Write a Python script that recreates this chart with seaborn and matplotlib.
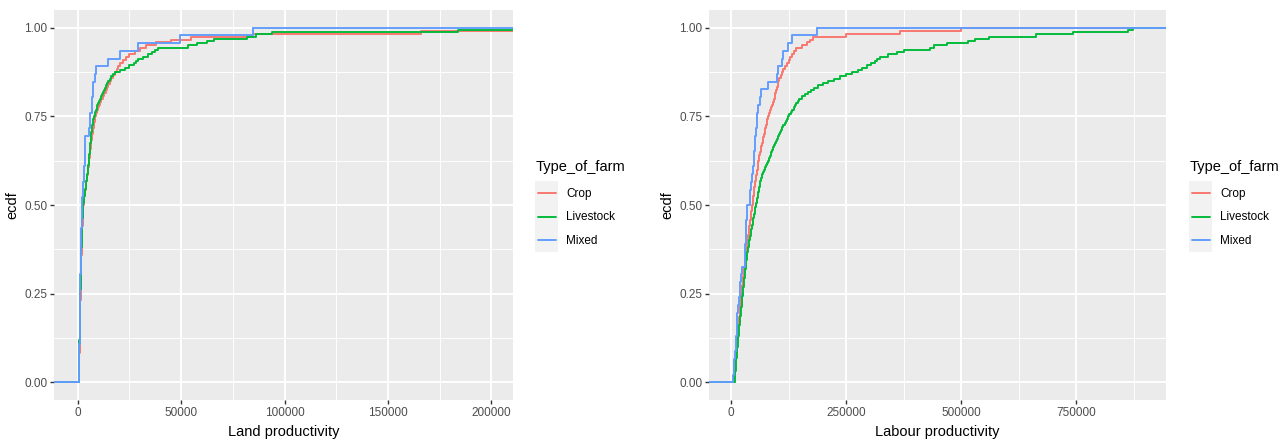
import numpy as np
import pandas as pd
import matplotlib
matplotlib.use("Agg")
import matplotlib.pyplot as plt
import seaborn as sns
from matplotlib.lines import Line2D
from matplotlib.patches import Rectangle

# ---------------- data ----------------
farm_types = ["Crop", "Livestock", "Mixed"]
farm_colors = ["#F8766D", "#00BA38", "#619CFF"]

crop_land = [
    600, 630, 660, 690, 720, 750, 780, 800, 830, 850, 880, 900,
    930, 960, 990, 1020, 1050, 1080, 1110, 1140, 1170, 1200, 1230, 1260, 1290, 1310, 1330, 1350, 1380, 1400,
    1430, 1470, 1500, 1530, 1570, 1600, 1630, 1670, 1700, 1730, 1770, 1800, 1830, 1870, 1900, 1930, 1970, 2000,
    2050, 2100, 2160, 2220, 2280, 2340, 2400, 2460, 2520, 2580, 2640, 2700,
    2880, 3070, 3260, 3450, 3640, 3830, 4020, 4220, 4420, 4620, 4810, 5000,
    5170, 5330, 5500, 5670, 5830, 6000, 6170, 6330, 6500, 6670, 6830, 7000,
    7250, 7500, 7750, 8000, 8250, 8500,
    9000, 9500, 10000, 10500, 11000, 11500,
    12200, 12800, 13500, 14200, 14800, 15500,
    16300, 17200, 18000, 18800, 19700, 20500,
    22000, 23500, 25000, 27500, 30000, 33000,
    38000, 45000, 55000, 85000, 166000, 230000,
]

livestock_land = [
    500, 520, 540, 560, 580, 600, 620, 640, 660, 680, 700, 720, 740, 760, 780, 800,
    820, 840, 860, 880, 900, 920, 940, 960, 980, 1000, 1020, 1040, 1060, 1080, 1100, 1120,
    1140, 1160, 1180, 1200, 1220, 1240, 1270, 1300,
    1325, 1350, 1375, 1400, 1425, 1450, 1475, 1500, 1525, 1550, 1575, 1600, 1625, 1650, 1675, 1700,
    1725, 1750, 1775, 1800, 1825, 1850, 1875, 1900,
    1940, 1980, 2020, 2060, 2110, 2150, 2200, 2240, 2280, 2320, 2370, 2420, 2460, 2510, 2560, 2600,
    2750, 2900, 3050, 3200, 3350, 3500, 3650, 3800, 3950, 4100, 4250, 4400, 4550, 4700, 4850, 5000,
    5090, 5190, 5280, 5380, 5470, 5560, 5660, 5750, 5840, 5940, 6030, 6130, 6220, 6310, 6410, 6500,
    6660, 6830, 6990, 7150, 7310, 7480, 7640, 7800,
    8150, 8500, 8850, 9200, 9550, 9900, 10250, 10600,
    11100, 11600, 12050, 12550, 13050, 13550, 14000, 14500,
    15400, 16300, 17100, 18000, 20500, 23000, 25000, 27000,
    28000, 29000, 31500, 34000, 35800, 37500, 39000, 53500,
    57600, 62500, 65700, 82000, 86000, 94000, 184000, 240000,
]

mixed_land = [
    450, 600, 700, 800, 850, 900, 950, 1000, 1050, 1100, 1150, 1200,
    1300, 1350, 1400, 1500, 1550, 1600, 1700, 1800, 1900, 2000, 2100, 2150,
    2600, 2700, 2900, 3070, 3300, 3400, 3600, 3720, 5500, 6100, 6150, 6750,
    6800, 7400, 7440, 8600, 8740, 14700, 20400, 29300, 49500, 84600,
]

crop_labour = [
    6800, 7300, 7800, 8300, 8800, 9300, 9800, 10300, 10800, 11300, 11800, 12300, 12800, 13300, 13800,
    14400, 15000, 15700, 16300, 16900, 17500, 18100, 18800, 19400, 20000, 20600, 21200, 21900, 22500, 23000,
    23700, 24300, 25000, 25700, 26300, 27000, 27700, 28300, 29000, 29700, 30300, 31000, 31700, 32300, 33000,
    33900, 34700, 35600, 36500, 37300, 38200, 39100, 39900, 40800, 41700, 42500, 43400, 44300, 45100, 46000,
    46800, 47700, 48500, 49300, 50200, 51000, 51800, 52700, 53500,
    54600, 55600, 56700, 57700, 58800, 59800, 60900, 61900, 63000,
    64500, 66000, 67500, 69000, 70500, 72000,
    73300, 74700, 76000, 77300, 78700, 80000,
    82200, 84400, 86500, 88700, 90800, 93000,
    94700, 96300, 98000, 99700, 101300, 103000,
    105300, 107700, 110000, 114000, 118000, 122000,
    125700, 129300, 133000, 137500, 142000, 155000,
    165000, 172000, 179000, 250000, 367000, 500000,
]

livestock_labour = [
    8000, 8400, 8800, 9200, 9600, 10000, 10400, 10800, 11200, 11600, 12000, 12400, 12800, 13200, 13600,
    14000, 14400, 14800, 15200, 15500,
    16000, 16500, 17000, 17500, 18000, 18500, 19000, 19500, 20000, 20500, 21000, 21500, 22000, 22500,
    23000, 23500, 24000, 24500, 25000, 25500,
    26000, 26600, 27100, 27700, 28200, 28800, 29300, 29900, 30400, 31000, 31500, 32100, 32600, 33200,
    33700, 34300, 34800, 35400, 35900, 36500,
    37400, 38200, 39100, 40000, 40800, 41700, 42600, 43500, 44300, 45200, 46100, 47000, 47800, 48700,
    49600, 50500, 51300, 52200, 53100, 54000,
    54900, 55800, 56800, 57700, 58600, 59500, 60400, 61300, 62300, 63200, 64100, 65000,
    66800, 68500, 70300, 72000,
    74000, 76000, 78000, 80000, 82000, 84000, 86000, 88000,
    90000, 92000, 94000, 96000, 98000, 100000, 102000, 104000,
    106500, 109000, 111500, 114000, 116500, 119000, 121500, 124000,
    127000, 130000, 133000, 136000, 139000, 142000, 145000, 148000,
    154000, 161000, 167000, 174000, 180000, 190000, 200000, 210000,
    223000, 237000, 250000, 262000, 275000, 285000, 295000, 305000,
    312000, 318000, 324000, 342000, 360000, 375000, 432000, 440000,
    470000, 515000, 530000, 560000, 663000, 743000, 862000, 873000,
]

mixed_labour = [
    5070, 6000, 7000, 8500, 10300, 11000, 12300, 12800, 13800, 15000, 16700, 19000,
    20500, 21700, 23200, 30400, 30500, 30600, 32000, 33300, 33600, 33800, 34000, 41300,
    42000, 42800, 45500, 48600, 49500, 50500, 52200, 52500, 54000, 55800, 57600, 59400,
    63000, 65200, 81200, 99300, 101400, 110100, 113800, 124600, 131900, 187700,
]

land_ticks = [0, 50000, 100000, 150000, 200000]
land_minor = [25000, 75000, 125000, 175000]
labour_ticks = [0, 250000, 500000, 750000]
labour_minor = [125000, 375000, 625000, 875000]
y_ticks = [0.0, 0.25, 0.5, 0.75, 1.0]
y_minor = [0.125, 0.375, 0.625, 0.875]

land_df = pd.DataFrame({
    "Type_of_farm": ["Crop"] * len(crop_land) + ["Livestock"] * len(livestock_land) + ["Mixed"] * len(mixed_land),
    "value": crop_land + livestock_land + mixed_land,
})
labour_df = pd.DataFrame({
    "Type_of_farm": ["Crop"] * len(crop_labour) + ["Livestock"] * len(livestock_labour) + ["Mixed"] * len(mixed_labour),
    "value": crop_labour + livestock_labour + mixed_labour,
})

# ---------------- style ----------------
sns.set_theme(style="darkgrid")
plt.rcParams['font.family'] = ['Liberation Sans', 'DejaVu Sans']

W, H = 1287, 442
fig = plt.figure(figsize=(W / 100, H / 100), dpi=100)
fig.patch.set_facecolor("white")

LW = 1.37
TICK_COLOR = "#4D4D4D"


def panel(rect_px, df, xlim, ticks, minor, xlabel):
    x0, y0, x1, y1 = rect_px
    ax = fig.add_axes([x0 / W, 1 - y1 / H, (x1 - x0) / W, (y1 - y0) / H])
    ax.set_facecolor("#EBEBEB")
    span = xlim[1] - xlim[0]
    for t, c in zip(farm_types, farm_colors):
        sub = df[df["Type_of_farm"] == t]
        sns.ecdfplot(data=sub, x="value", ax=ax, color=c, linewidth=LW)
        vmin = sub["value"].min()
        vmax = sub["value"].max()
        # ggplot-style padding of the ECDF to -Inf / +Inf
        ax.plot([xlim[0] - span, vmin], [0, 0], color=c, linewidth=LW)
        if vmax < xlim[1]:
            ax.plot([vmax, xlim[1] + span], [1, 1], color=c, linewidth=LW)
    ax.set_xlim(*xlim)
    ax.set_ylim(-0.05, 1.05)
    ax.set_xticks(ticks)
    ax.set_xticklabels([str(int(t)) for t in ticks])
    ax.set_xticks(minor, minor=True)
    ax.set_yticks(y_ticks)
    ax.set_yticklabels([f"{v:.2f}" for v in y_ticks])
    ax.set_yticks(y_minor, minor=True)
    ax.grid(which="major", color="white", linewidth=1.37)
    ax.grid(which="minor", color="white", linewidth=0.68)
    ax.set_axisbelow(True)
    for s in ax.spines.values():
        s.set_visible(False)
    ax.tick_params(which="major", length=2.6, width=1.0, color="#333333",
                   labelsize=8.5, labelcolor=TICK_COLOR, pad=2.2,
                   bottom=True, left=True)
    ax.tick_params(which="minor", length=0)
    ax.set_xlabel(xlabel, fontsize=10.5, color="black", labelpad=4.5)
    ax.set_ylabel("ecdf", fontsize=10.5, color="black", labelpad=3.5)
    return ax


ax1 = panel((54, 10, 513, 400), land_df, (-11460, 210490), land_ticks, land_minor, "Land productivity")
ax2 = panel((709, 10, 1166, 400), labour_df, (-47700, 945000), labour_ticks, labour_minor, "Labour productivity")


def legend(x_key, x_text, x_title):
    fig.text(x_title / W, 1 - 167 / H, "Type_of_farm", fontsize=10.5, ha="left", va="center", color="black")
    fig.patches.append(Rectangle((x_key / W, 1 - 252 / H), 23 / W, 71 / H,
                                 transform=fig.transFigure, facecolor="#F2F2F2", edgecolor="none"))
    for i, (t, c) in enumerate(zip(farm_types, farm_colors)):
        yy = 1 - (192.5 + 24 * i) / H
        fig.lines.append(Line2D([(x_key + 3) / W, (x_key + 21) / W], [yy, yy],
                                transform=fig.transFigure, color=c, linewidth=LW))
        fig.text(x_text / W, yy - 1 / H, t, fontsize=8.5, ha="left", va="center", color="black")


legend(535, 566, 536)
legend(1189, 1220, 1190)

fig.savefig("out.png", dpi=100, facecolor="white")
